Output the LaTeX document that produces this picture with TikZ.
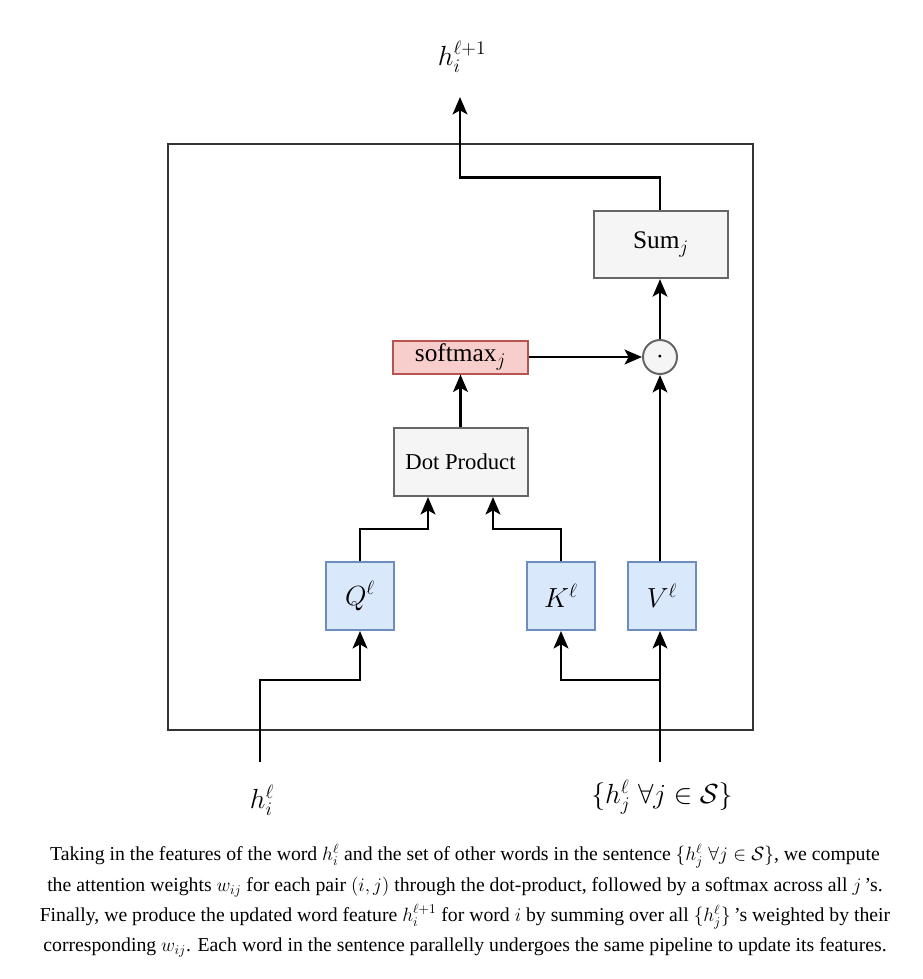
\documentclass[tikz,border=0pt]{standalone}
\usepackage{amsmath, amssymb}
\usepackage{fontspec}
\setmainfont{Liberation Serif}
\usetikzlibrary{arrows.meta, calc}

\definecolor{boxgray}{HTML}{F5F5F5}
\definecolor{linegray}{HTML}{666666}
\definecolor{softfill}{HTML}{F8CECC}
\definecolor{softline}{HTML}{B85450}
\definecolor{qkvfill}{HTML}{DAE8FC}
\definecolor{qkvline}{HTML}{6C8EBF}

\tikzset{
    opbox/.style={draw=linegray, fill=boxgray, line width=1.5pt, minimum width=100.5pt, minimum height=50.5pt, inner sep=0pt},
    softbox/.style={draw=softline, fill=softfill, line width=1.5pt, minimum width=101pt, minimum height=24.75pt, inner sep=0pt},
    qkv/.style={draw=qkvline, fill=qkvfill, line width=1.5pt, minimum width=51pt, minimum height=51pt, inner sep=0pt},
    flow/.style={->, line width=2.2pt},
    lbl/.style={font=\fontsize{21}{23}\selectfont}
}

\begin{document}
\begin{tikzpicture}[x=0.75pt, y=-0.75pt, >={Stealth[length=13pt, width=11pt, inset=3pt]}]
    \useasboundingbox (0,0) rectangle (922,979);
    % outer frame
    \draw[line width=1.1pt, black!80] (168,144) rectangle (753,730);

    % blocks
    \node[opbox, font=\fontsize{19}{21}\selectfont] (sum) at (661,244.5) {Sum$_j$};
    \node[circle, draw=linegray, fill=boxgray, line width=1.5pt, minimum size=25.5pt, inner sep=0pt] (dot) at (660,357) {\fontsize{22}{22}\selectfont$\cdot$};
    \node[softbox, font=\fontsize{19}{21}\selectfont] (soft) at (460.5,357) {softmax$_j$};
    \node[opbox, minimum height=51pt, font=\fontsize{17}{19}\selectfont] (dp) at (460.5,462) {Dot Product};
    \node[qkv, lbl] (q) at (360,596) {$Q^\ell$};
    \node[qkv, lbl] (k) at (561,596) {$K^\ell$};
    \node[qkv, lbl] (v) at (662,596) {$V^\ell$};

    % inputs / output
    \node[lbl] (hi) at (262,800) {$h_i^\ell$};
    \node[lbl] (hj) at (662,797) {$\{h_j^\ell \;\forall j \in \mathcal{S}\}$};
    \node[lbl] (hnext) at (462,57) {$h_i^{\ell+1}$};
    \coordinate (hiin) at (260,762);
    \coordinate (hjin) at (660,762);
    \coordinate (split) at (660,680);
    \coordinate (hout) at (460,97);

    % connectors
    \draw[flow] (hiin) -- ++(0,-82) -| (q.south);
    \draw[flow] (hjin) -- (hjin |- v.south);
    \draw[flow] (split) -| (k.south);
    \draw[flow] (q.north) -- ++(0,-32) -| ($(dp.south)+(-32.5,0)$);
    \draw[flow] (k.north) -- ++(0,-32) -| ($(dp.south)+(32.5,0)$);
    \draw[flow] (dp.north) -- (soft.south);
    \draw[flow] (soft.east) -- (dot.west);
    \draw[flow] (dot.south |- v.north) -- (dot.south);
    \draw[flow] (dot.north) -- (dot.north |- sum.south);
    \draw[flow] (dot.north |- sum.north) -- ++(0,-32) -| (hout);

    % caption
    \node[align=center, font=\fontsize{14.8}{22.8}\selectfont] (caption) at (465,901) {%
        Taking in the features of the word $h_i^\ell$ and the set of other words in the sentence $\{h_j^\ell\;\forall j \in \mathcal{S}\}$, we compute\\
        the attention weights $w_{ij}$ for each pair $(i,j)$ through the dot-product, followed by a softmax across all $j$\,'s.\\
        Finally, we produce the updated word feature $h_i^{\ell+1}$ for word $i$ by summing over all $\{h_j^\ell\}$\,'s weighted by their\\
        corresponding $w_{ij}$. Each word in the sentence parallelly undergoes the same pipeline to update its features.};
\end{tikzpicture}
\end{document}
